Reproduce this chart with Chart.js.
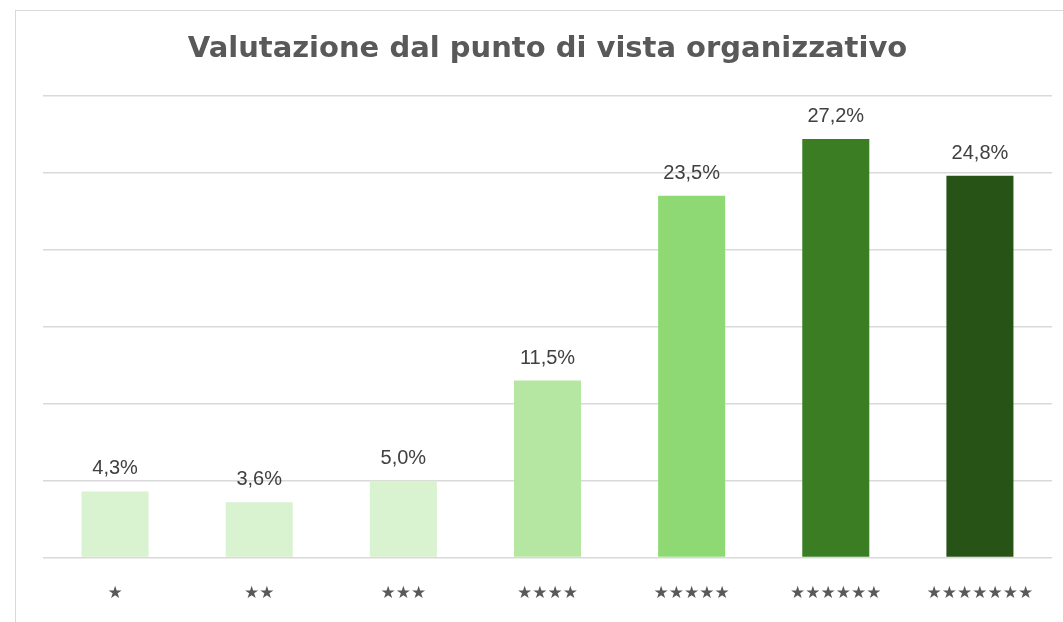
<!DOCTYPE html>
<html>
<head>
<meta charset="utf-8">
<script src="https://cdn.jsdelivr.net/npm/chart.js@4/dist/chart.umd.min.js"></script>
<style>
  html, body { margin: 0; padding: 0; background: #fff; }
  #wrap { position: relative; width: 1063px; height: 622px; overflow: hidden; }
  #frame { position: absolute; left: 15px; top: 10px; width: 1100px; height: 700px; border: 1.5px solid #d9d9d9; box-sizing: border-box; }
  canvas { position: absolute; left: 0; top: 0; }
</style>
</head>
<body>
<div id="wrap">
  <div id="frame"></div>
  <canvas id="myChart" width="1063" height="622"></canvas>
</div>
<script>
var categories = ['★', '★★', '★★★', '★★★★', '★★★★★', '★★★★★★', '★★★★★★★'];
var values = [4.3, 3.6, 5.0, 11.5, 23.5, 27.2, 24.8];
var barColors = ['#d9f2d0', '#d9f2d0', '#d9f2d0', '#b5e6a2', '#8ed973', '#3b7d23', '#275317'];
var yTicks = [0, 5, 10, 15, 20, 25, 30];

// percent labels above each bar, Italian format (4,3%)
var barLabels = {
    id: 'barLabels',
    afterDatasetsDraw: function(chart) {
        var ctx = chart.ctx;
        var meta = chart.getDatasetMeta(0);
        ctx.save();
        ctx.font = '20px "Liberation Sans", Arial, sans-serif';
        ctx.fillStyle = '#404040';
        ctx.textAlign = 'center';
        ctx.textBaseline = 'alphabetic';
        meta.data.forEach(function(bar, i) {
            var txt = values[i].toFixed(1).replace('.', ',') + '%';
            ctx.fillText(txt, bar.x, bar.y - 17);
        });
        ctx.restore();
    }
};

var ctx = document.getElementById('myChart').getContext('2d');
var myChart = new Chart(ctx, {
    type: 'bar',
    data: {
        labels: categories,
        datasets: [{
            data: values,
            backgroundColor: barColors,
            categoryPercentage: 1,
            barPercentage: 0.465
        }]
    },
    options: {
        responsive: false,
        animation: false,
        layout: { padding: { top: 26, left: 43, right: 11, bottom: -8 } },
        plugins: {
            legend: { display: false },
            tooltip: { enabled: false },
            title: {
                display: true,
                text: 'Valutazione dal punto di vista organizzativo',
                color: '#595959',
                font: { family: '"DejaVu Sans", Verdana, sans-serif', size: 29, weight: 'bold' },
                padding: { top: 6, bottom: 29 }
            }
        },
        scales: {
            x: {
                grid: { display: false, drawTicks: false },
                border: { display: false },
                ticks: {
                    color: '#595959',
                    padding: 26,
                    font: { family: '"DejaVu Sans", sans-serif', size: 17 }
                }
            },
            y: {
                min: 0,
                max: 30,
                afterBuildTicks: function(axis) {
                    axis.ticks = yTicks.map(function(v) { return { value: v }; });
                },
                grid: { color: '#d9d9d9', lineWidth: 1.5, drawTicks: false },
                border: { display: false },
                ticks: { display: false }
            }
        }
    },
    plugins: [barLabels]
});
</script>
</body>
</html>
